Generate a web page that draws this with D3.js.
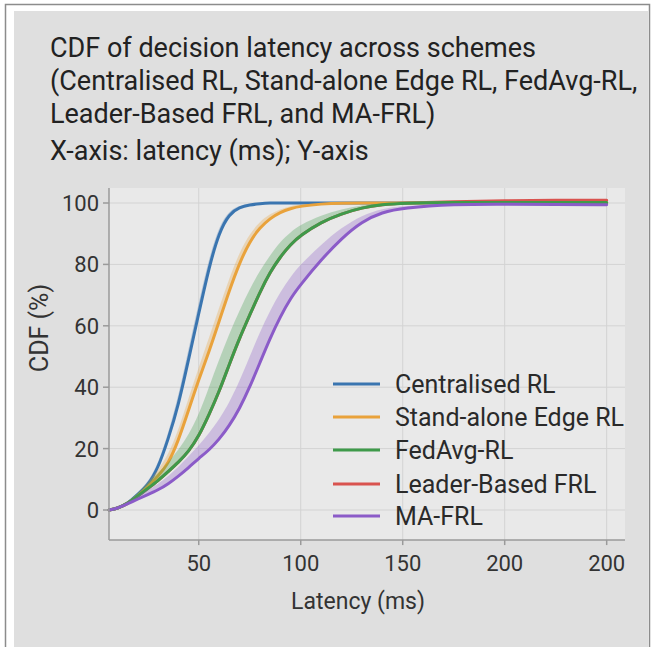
<!DOCTYPE html>
<html><head><meta charset="utf-8">
<script src="https://cdn.jsdelivr.net/npm/d3@7"></script>
<style>body{margin:0;background:#fff;}svg{display:block;font-family:Roboto,"Liberation Sans",sans-serif;}</style>
</head><body>
<svg id="chart" width="651" height="647"></svg>
<script>
// ---- data ----
const titleLines = [
  "CDF of decision latency across schemes",
  "(Centralised RL, Stand-alone Edge RL, FedAvg-RL,",
  "Leader-Based FRL, and MA-FRL)",
  "X-axis: latency (ms); Y-axis"
];
const seriesNames = ["Centralised RL","Stand-alone Edge RL","FedAvg-RL","Leader-Based FRL","MA-FRL"];
const seriesColors = ["#3a75b0","#e9a23b","#3e9a4a","#d9534f","#8b5bc8"];
const latency = [6,10,15,20,25,30,35,40,45,50,55,60,65,70,75,80,85,90,95,100,110,120,130,140,150,175,200,225,250];
const centralised   = [0,0.5,2,5,8,13.5,23,34,49,64,79,90.5,96.5,98.6,99.4,99.8,100,100,100,100,100,100,100,100,100,100,100,100,100];
const centralisedHi = [0,0.6,2.4,5.8,9,15,25,37,52.5,67.5,82,92.5,97.5,99.2,99.7,100,100,100,100,100,100,100,100,100,100,100,100,100,100];
const standalone    = [0,0.5,2,4.5,7.5,11,15,22.5,32.5,42.5,51.5,61.5,71.5,80.5,87.5,92,95,97,98.2,99,99.7,100,100,100,100,100.1,100.1,100.1,100.1];
const standaloneHi  = [0,0.6,2.4,5.3,8.8,13,18,26,36.5,46.5,56,66,75.5,84,90,94,96.5,98,99,99.6,100,100,100,100,100,100.1,100.1,100.1,100.1];
const fedavg        = [0,0.5,2,4.5,7,9.5,12.5,15.5,19,24,31,38.5,47.5,56,63.5,71,77.5,82.5,86.5,89.5,93.8,96.5,98.5,99.5,100,100.2,100.2,100.2,100.2];
const fedavgHi      = [0,0.6,2.5,5.5,8.8,12,15.5,19.5,24.5,31,40,49,57.5,65,72,78,83,87.5,90.5,93,96,98,99.3,100,100.2,100.2,100.2,100.2,100.2];
const leader        = [0,0.5,2,4.5,7,9.5,12.5,15.5,19,24,31,38.5,47.5,56,63.5,71,77.5,82.5,86.5,89.5,93.8,96.5,98.5,99.5,100,100.4,100.8,100.9,100.9];
const mafrl         = [0,0.5,2,3.5,5,6.5,8.5,11,13.8,16.8,19.5,23,27.5,33,40,48,56,63,69,73.5,81.5,88.5,94,97,98.4,99.6,99.6,99.5,99.4];
const mafrlHi       = [0,0.7,2.6,4.5,6.5,8.5,11,14,17.5,21,25,29.5,35,42,50,58,65,71,76,80,86.5,92,96,98.2,99.1,99.7,99.7,99.6,99.5];
const xTickValues = [50,100,150,200,250];
const xTickLabels = ["50","100","150","200","200"];
const yTickValues = [0,20,40,60,80,100];

// ---- build ----
const svg = d3.select("#chart");
const x = d3.scaleLinear().domain([6,258]).range([109,623]);
const y = d3.scaleLinear().domain([0,100]).range([510,203]);

// frame + panel
svg.append("rect").attr("x",5.5).attr("y",4.5).attr("width",644).attr("height",660)
  .attr("fill","#fff").attr("stroke","#8c8c8c").attr("stroke-width",1.5);
svg.append("rect").attr("x",14).attr("y",11).attr("width",634).attr("height",640).attr("fill","#dfdfdf");

// plot background
const yTop = y(104.9), yBot = y(-9.8);
svg.append("rect").attr("x",x(6)).attr("y",yTop).attr("width",x(258)-x(6)+2).attr("height",yBot-yTop).attr("fill","#e9e9e9");

// grid
const grid = svg.append("g").attr("stroke","#d3d3d3").attr("stroke-width",1);
yTickValues.forEach(v=>grid.append("line").attr("x1",x(6)).attr("x2",x(258)+2).attr("y1",y(v)).attr("y2",y(v)));
xTickValues.forEach(v=>grid.append("line").attr("x1",x(v)).attr("x2",x(v)).attr("y1",yTop).attr("y2",yBot));

// series (drawn bottom to top)
const series = [
  {name:seriesNames[3], color:seriesColors[3], v:leader, hi:null},
  {name:seriesNames[0], color:seriesColors[0], v:centralised, hi:centralisedHi},
  {name:seriesNames[1], color:seriesColors[1], v:standalone, hi:standaloneHi},
  {name:seriesNames[2], color:seriesColors[2], v:fedavg, hi:fedavgHi},
  {name:seriesNames[4], color:seriesColors[4], v:mafrl, hi:mafrlHi}
];
const area = d3.area().x(d=>x(d.x)).y0(d=>y(d.v)).y1(d=>y(d.hi)).curve(d3.curveBasis);
const line = d3.line().x(d=>x(d.x)).y(d=>y(d.v)).curve(d3.curveBasis);
series.forEach(s=>{
  const pts = latency.map((l,i)=>({x:l, v:s.v[i], hi: s.hi ? s.hi[i] : s.v[i]}));
  if (s.hi) svg.append("path").datum(pts).attr("d",area).attr("fill",s.color).attr("fill-opacity",0.3);
  svg.append("path").datum(pts).attr("d",line).attr("fill","none").attr("stroke",s.color).attr("stroke-width",3).attr("stroke-linecap","round");
});

// axes
const axisColor = "#9a9a9a";
svg.append("line").attr("x1",x(6)).attr("x2",x(6)).attr("y1",yTop).attr("y2",yBot).attr("stroke",axisColor).attr("stroke-width",1.5);
svg.append("line").attr("x1",x(6)).attr("x2",x(258)+2).attr("y1",yBot).attr("y2",yBot).attr("stroke",axisColor).attr("stroke-width",1.5);
const yAxis = svg.append("g");
yTickValues.forEach(v=>{
  yAxis.append("line").attr("x1",x(6)-6).attr("x2",x(6)).attr("y1",y(v)).attr("y2",y(v)).attr("stroke",axisColor).attr("stroke-width",1.5);
  yAxis.append("text").attr("x",x(6)-10).attr("y",y(v)).attr("dy","0.36em").attr("text-anchor","end")
    .attr("font-size",22).attr("fill","#333").text(v);
});
const xAxis = svg.append("g");
xTickValues.forEach((v,i)=>{
  xAxis.append("line").attr("x1",x(v)).attr("x2",x(v)).attr("y1",yBot).attr("y2",yBot+5).attr("stroke",axisColor).attr("stroke-width",1.5);
  xAxis.append("text").attr("x",x(v)).attr("y",yBot+31).attr("text-anchor","middle")
    .attr("font-size",22).attr("fill","#333").text(xTickLabels[i]);
});
svg.append("text").attr("x",358).attr("y",609).attr("text-anchor","middle").attr("font-size",23).attr("fill","#333").text("Latency (ms)");
svg.append("text").attr("transform","translate(48,328) rotate(-90)").attr("text-anchor","middle").attr("font-size",25).attr("fill","#333").text("CDF (%)");

// legend
const legendY = [384,417,450,484,516];
seriesNames.forEach((n,i)=>{
  svg.append("line").attr("x1",333).attr("x2",380).attr("y1",legendY[i]).attr("y2",legendY[i]).attr("stroke",seriesColors[i]).attr("stroke-width",3);
  svg.append("text").attr("x",395).attr("y",legendY[i]).attr("dy","0.36em").attr("font-size",25).attr("fill","#2a2a2a").text(n);
});

// title
const titleY = [57,90,123,160];
titleLines.forEach((t,i)=>{
  svg.append("text").attr("x",50).attr("y",titleY[i]).attr("font-size",27).attr("fill","#222").text(t);
});
</script>
</body></html>
